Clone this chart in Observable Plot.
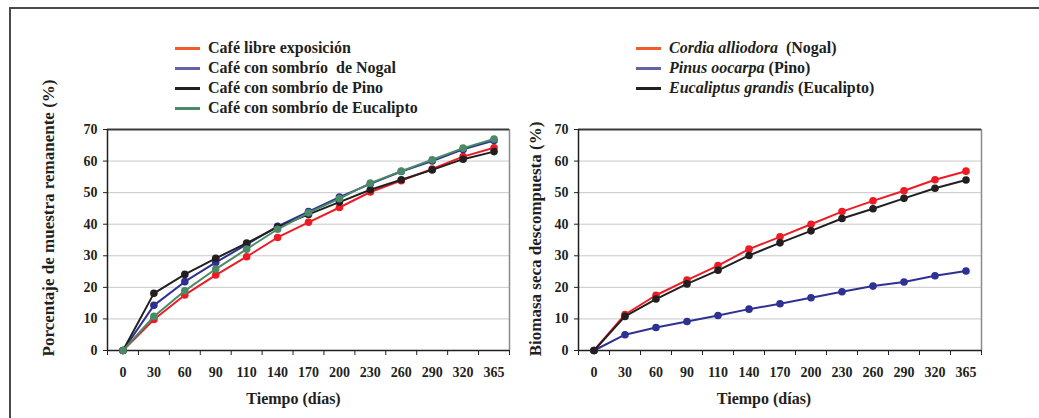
<!DOCTYPE html>
<html><head><meta charset="utf-8">
<script src="https://cdn.jsdelivr.net/npm/d3@7"></script>
<script src="https://cdn.jsdelivr.net/npm/@observablehq/plot@0.6"></script>
<style>
body{margin:0;background:#fff;}
#wrap{position:relative;width:1039px;height:418px;overflow:hidden;font-family:"Liberation Serif","Times New Roman",serif;color:#231f20;}
#frame{position:absolute;left:9px;top:7px;right:-5px;bottom:-5px;border-top:2px solid #4a4a4a;border-left:2px solid #4a4a4a;}
.panel{position:absolute;top:0;}
.legend{position:absolute;font-weight:bold;font-size:16px;line-height:20px;white-space:pre;}
.legend .row{display:flex;align-items:center;height:20px;}
.legend .sw{width:25px;height:3px;margin-right:8px;flex:none;}
.legend i{font-style:italic;}
</style></head><body>
<div id="wrap"><div id="frame"></div>
<div id="left" class="panel" style="left:0"></div>
<div id="right" class="panel" style="left:520px"></div>
<div id="legL" class="legend" style="left:175px;top:38px"></div>
<div id="legR" class="legend" style="left:636px;top:38px"></div>
</div>
<script>
// categories (x tick labels)
const days = ["0","30","60","90","110","140","170","200","230","260","290","320","365"];
const yTicks = [0,10,20,30,40,50,60,70];

// left panel: Porcentaje de muestra remanente (%)
const leftNames = ["Café libre exposición","Café con sombrío  de Nogal","Café con sombrío de Pino","Café con sombrío de Eucalipto"];
const libre     = [0, 9.8,17.6,23.9,29.7,35.8,40.6,45.3,50.2,53.8,57.5,61.4,64.2];
const nogal     = [0,14.3,21.8,27.9,33.6,39.3,44.0,48.6,52.8,56.7,60.0,63.7,66.5];
const pino      = [0,18.1,24.1,29.2,34.0,39.1,43.1,47.0,50.9,54.1,57.2,60.6,63.0];
const eucalipto = [0,10.8,18.9,25.8,32.1,38.4,43.6,48.1,53.0,56.8,60.4,64.1,67.0];

// right panel: Biomasa seca descompuesta (%)
const rightSpecies = ["Cordia alliodora","Pinus oocarpa","Eucaliptus grandis"];
const rightCommon  = ["  (Nogal)"," (Pino)"," (Eucalipto)"];
const cordia     = [0,11.4,17.5,22.3,26.9,32.1,36.0,40.0,44.0,47.4,50.6,54.1,56.8];
const pinus      = [0, 5.0, 7.3, 9.2,11.1,13.1,14.8,16.7,18.6,20.4,21.7,23.7,25.2];
const eucaliptus = [0,10.8,16.3,21.1,25.4,30.1,34.1,37.9,41.8,44.9,48.2,51.4,54.0];

// styles
const leftLine = ["#ed1c24","#2e3192","#231f20","#4b8a67"];
const leftSwatch = ["#f15a29","#6461a6","#231f20","#4b8a67"];
const rightLine = ["#ed1c24","#2e3192","#231f20"];
const rightSwatch = ["#f15a29","#6461a6","#231f20"];

function panel({series, names, colors, width, marginLeft, marginRight, ylabel, ydx, ydy, xdx}) {
  const seriesMarks = series.flatMap((vals, s) => {
    const rows = vals.map((v, i) => ({i, v}));
    return [
      Plot.line(rows, {x: "i", y: "v", stroke: colors[s], strokeWidth: 2}),
      Plot.dot(rows, {x: "i", y: "v", fill: colors[s], r: 3.8})
    ];
  });
  return Plot.plot({
    width, height: 418, marginLeft, marginRight, marginTop: 129, marginBottom: 68,
    style: {fontFamily: "'Liberation Serif', 'Times New Roman', serif", fontWeight: "bold", fontSize: "14px", color: "#231f20", background: "transparent", overflow: "visible"},
    x: {domain: [-0.5, days.length - 0.5], axis: null},
    y: {domain: [0, 70], axis: null},
    marks: [
      Plot.gridY(yTicks.slice(1, -1), {stroke: "#c8c8c8", strokeOpacity: 1, strokeWidth: 1}),
      Plot.ruleX([days.length - 0.5], {stroke: "#8a8a8a", strokeWidth: 1.5}),
      Plot.ruleY([70], {stroke: "#3a3a3a", strokeWidth: 2}),
      Plot.axisY(yTicks, {tickSize: 4, tickPadding: 6, label: null}),
      Plot.axisX(d3.range(days.length + 1).map(k => k - 0.5), {tickSize: 5, tickFormat: () => "", label: null}),
      Plot.axisX(d3.range(days.length), {tickSize: 0, tickPadding: 17, tickFormat: i => days[i], label: null}),
      Plot.ruleX([-0.5], {stroke: "#231f20", strokeWidth: 1.5}),
      Plot.ruleY([0], {stroke: "#231f20", strokeWidth: 1.5}),
      ...seriesMarks,
      Plot.text([ylabel], {text: d => d, frameAnchor: "left", rotate: -90, dx: ydx, dy: ydy, fontSize: 17, textAnchor: "middle", lineAnchor: "middle"}),
      Plot.text(["Tiempo (días)"], {text: d => d, frameAnchor: "bottom", dx: xdx, dy: 48, fontSize: 16, textAnchor: "middle", lineAnchor: "middle"})
    ]
  });
}

document.getElementById("left").append(panel({
  series: [libre, nogal, pino, eucalipto], names: leftNames, colors: leftLine,
  width: 520, marginLeft: 107, marginRight: 11,
  ylabel: "Porcentaje de muestra remanente (%)", ydx: -59, ydy: -22, xdx: -15
}));
document.getElementById("right").append(panel({
  series: [cordia, pinus, eucaliptus], names: rightSpecies, colors: rightLine,
  width: 519, marginLeft: 58, marginRight: 58,
  ylabel: "Biomasa seca descompuesta (%)", ydx: -43, ydy: -1, xdx: -16
}));

const legL = document.getElementById("legL");
leftNames.forEach((n, k) => {
  const row = document.createElement("div"); row.className = "row";
  const sw = document.createElement("span"); sw.className = "sw"; sw.style.background = leftSwatch[k];
  const t = document.createElement("span"); t.textContent = n;
  row.append(sw, t); legL.append(row);
});
const legR = document.getElementById("legR");
rightSpecies.forEach((n, k) => {
  const row = document.createElement("div"); row.className = "row";
  const sw = document.createElement("span"); sw.className = "sw"; sw.style.background = rightSwatch[k];
  const it = document.createElement("i"); it.textContent = n;
  const t = document.createElement("span"); t.textContent = rightCommon[k];
  row.append(sw, it, t); legR.append(row);
});
</script>
</body></html>
